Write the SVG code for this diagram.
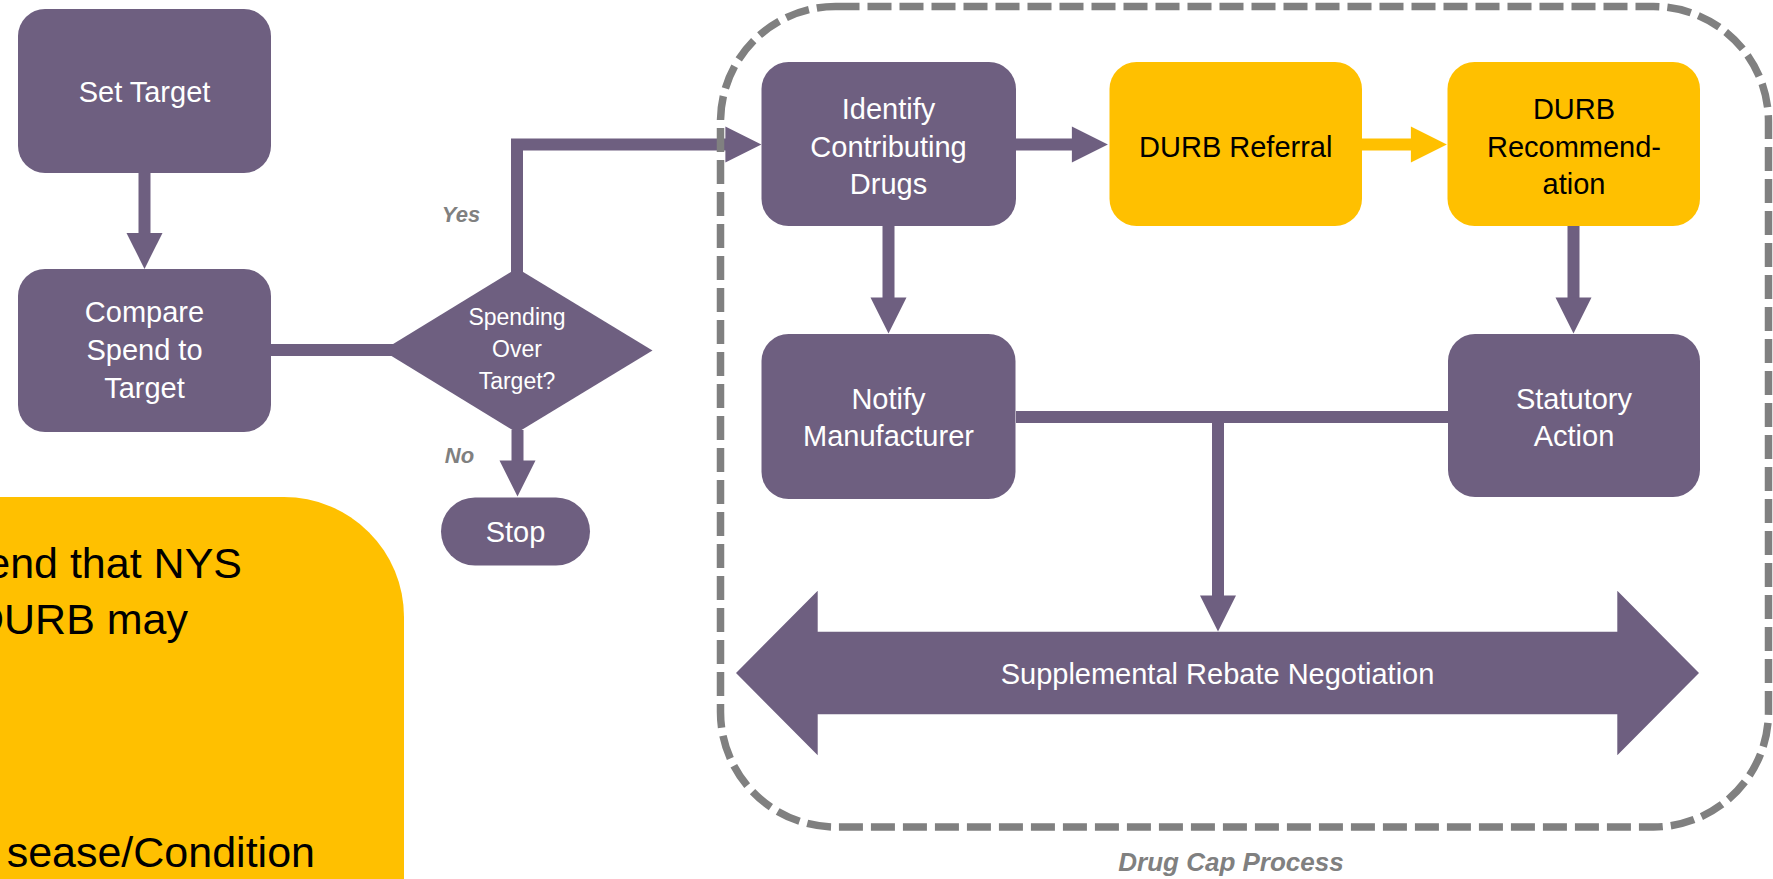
<svg xmlns="http://www.w3.org/2000/svg" width="1773" height="879" viewBox="0 0 1773 879">
<defs>
<style>
.box{fill:#6E5F80}
.ybox{fill:#FFC000}
.t{font-family:"Liberation Sans",Arial,sans-serif;font-size:29px;fill:#ffffff;text-anchor:middle}
.tb{fill:#000000}
.d{font-size:23px}
.lbl{font-family:"Liberation Sans",Arial,sans-serif;font-weight:bold;font-style:italic;fill:#808080;text-anchor:middle}
.big{font-family:"Liberation Sans",Arial,sans-serif;font-size:43px;fill:#000000;text-anchor:end}
.c{fill:none;stroke:#6E5F80;stroke-width:12;stroke-linejoin:miter}
.cy{stroke:#FFC000}
.border{fill:none;stroke:#808080;stroke-width:7.5;stroke-dasharray:24 8}
</style>
<marker id="ah" markerWidth="3" markerHeight="3" refX="0.05" refY="1.5" orient="auto" markerUnits="strokeWidth" overflow="visible"><path d="M0,0 L3,1.5 L0,3 z" fill="#6E5F80"/></marker>
<marker id="ahy" markerWidth="3" markerHeight="3" refX="0.05" refY="1.5" orient="auto" markerUnits="strokeWidth" overflow="visible"><path d="M0,0 L3,1.5 L0,3 z" fill="#FFC000"/></marker>
</defs>
<rect width="1773" height="879" fill="#ffffff"/>

<g id="connectors">
<path class="c" d="M144.5,173 V233.5" marker-end="url(#ah)"/>
<path class="c" d="M271,350 H400"/>
<path class="c" d="M517,276 V144.5 H726" marker-end="url(#ah)"/>
<path class="c" d="M517.5,430 V461" marker-end="url(#ah)"/>
<path class="c" d="M1016,144.5 H1072.5" marker-end="url(#ah)"/>
<path class="c cy" d="M1362,144.5 H1411.5" marker-end="url(#ahy)"/>
<path class="c" d="M888.5,226 V298" marker-end="url(#ah)"/>
<path class="c" d="M1573.5,226 V298" marker-end="url(#ah)"/>
<path class="c" d="M1016,417 H1448"/>
<path class="c" d="M1218,417 V596" marker-end="url(#ah)"/>
</g>

<g id="set-target">
<rect class="box" x="18" y="9" width="253" height="164" rx="27"/>
<text class="t" x="144.5" y="102">Set Target</text>
</g>

<g id="compare">
<rect class="box" x="18" y="269" width="253" height="163" rx="27"/>
<text class="t" x="144.5" y="322">Compare</text>
<text class="t" x="144.5" y="360">Spend to</text>
<text class="t" x="144.5" y="398">Target</text>
</g>

<g id="decision">
<polygon class="box" points="382.5,350.5 517,268.3 652.5,350.5 517,432.7"/>
<text class="t d" x="517" y="325">Spending</text>
<text class="t d" x="517" y="357">Over</text>
<text class="t d" x="517" y="389">Target?</text>
</g>

<g id="label-yes"><text class="lbl" x="461" y="222" font-size="22">Yes</text></g>
<g id="label-no"><text class="lbl" x="459.5" y="463" font-size="22">No</text></g>

<g id="stop">
<rect class="box" x="441" y="497.5" width="149" height="68" rx="34"/>
<text class="t" x="515.5" y="541.5" font-size="28">Stop</text>
</g>

<g id="identify">
<rect class="box" x="761.5" y="62" width="254.5" height="164" rx="27"/>
<text class="t" x="888.5" y="119">Identify</text>
<text class="t" x="888.5" y="156.5">Contributing</text>
<text class="t" x="888.5" y="194">Drugs</text>
</g>

<g id="durb-referral">
<rect class="ybox" x="1109.5" y="62" width="252.5" height="164" rx="27"/>
<text class="t tb" x="1235.75" y="157">DURB Referral</text>
</g>

<g id="durb-recommendation">
<rect class="ybox" x="1447.5" y="62" width="252.5" height="164" rx="27"/>
<text class="t tb" x="1574" y="119">DURB</text>
<text class="t tb" x="1574" y="156.5">Recommend-</text>
<text class="t tb" x="1574" y="194">ation</text>
</g>

<g id="notify">
<rect class="box" x="761.5" y="334" width="254" height="165" rx="27"/>
<text class="t" x="888.5" y="409">Notify</text>
<text class="t" x="888.5" y="446">Manufacturer</text>
</g>

<g id="statutory">
<rect class="box" x="1448" y="334" width="252" height="163" rx="27"/>
<text class="t" x="1574" y="409">Statutory</text>
<text class="t" x="1574" y="446">Action</text>
</g>

<g id="rebate">
<polygon class="box" points="736,673 817.7,590.7 817.7,631.7 1617.3,631.7 1617.3,590.7 1699,673 1617.3,755.3 1617.3,714.3 817.7,714.3 817.7,755.3"/>
<text class="t" x="1217.5" y="683.5">Supplemental Rebate Negotiation</text>
</g>

<g id="drug-cap-process">
<rect class="border" x="720.5" y="6.5" width="1048" height="820.5" rx="115"/>
<text class="lbl" x="1231" y="871" font-size="26">Drug Cap Process</text>
</g>

<g id="note">
<path class="ybox" d="M-200,497 H284 A120,120 0 0 1 404,617 V1000 H-200 Z"/>
<text class="big" x="242" y="578">end that NYS</text>
<text class="big" x="188" y="634">DURB may</text>
<text class="big" x="315" y="867">sease/Condition</text>
</g>
</svg>
